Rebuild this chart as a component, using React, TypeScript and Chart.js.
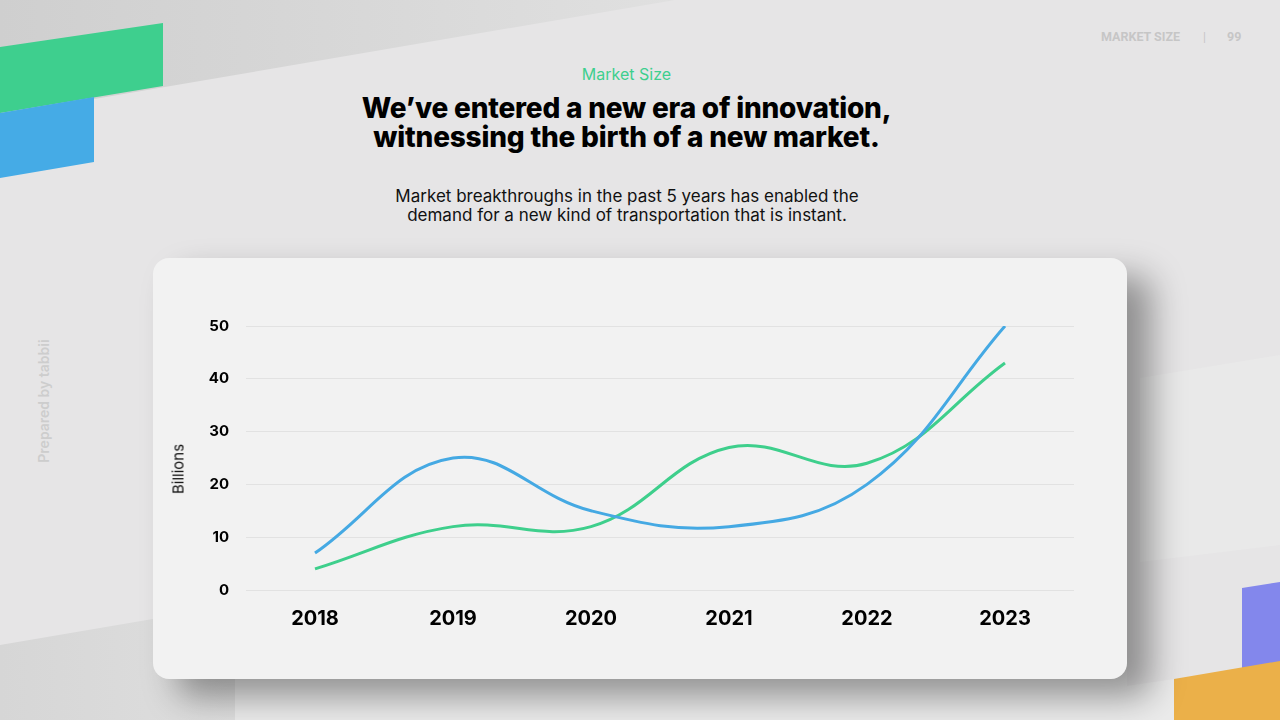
import React, { useEffect, useRef } from "react";
import { Chart, registerables } from "chart.js";

Chart.register(...registerables);

const years = ["2018", "2019", "2020", "2021", "2022", "2023"];
const seriesBlue = [7, 25, 15, 12, 20, 50];
const seriesGreen = [4, 12, 12, 27, 24, 43];
const yTicks = [0, 10, 20, 30, 40, 50];

const BLUE = "#45a9e3";
const GREEN = "#3ecf8c";

function LineChart() {
  const ref = useRef<HTMLCanvasElement | null>(null);
  useEffect(() => {
    if (!ref.current) return;
    const chart = new Chart(ref.current, {
      type: "line",
      data: {
        labels: years,
        datasets: [
          {
            label: "Blue",
            data: seriesBlue,
            borderColor: BLUE,
            borderWidth: 3,
            pointRadius: 0,
            tension: 0.4,
            fill: false,
          },
          {
            label: "Green",
            data: seriesGreen,
            borderColor: GREEN,
            borderWidth: 3,
            pointRadius: 0,
            tension: 0.4,
            fill: false,
          },
        ],
      },
      options: {
        animation: false,
        responsive: true,
        maintainAspectRatio: false,
        layout: { padding: { left: 0, right: 53, top: 68, bottom: 0 } },
        plugins: { legend: { display: false }, tooltip: { enabled: false } },
        scales: {
          x: {
            offset: true,
            grid: { display: false, drawTicks: false },
            border: { display: false },
            ticks: {
              color: "#000",
              font: { family: "Inter, 'Open Sans', sans-serif", size: 20, weight: "bold" },
              padding: 17,
            },
            afterFit: (s: any) => {
              s.height = 89;
            },
          },
          y: {
            min: yTicks[0],
            max: yTicks[yTicks.length - 1],
            afterBuildTicks: (s: any) => {
              s.ticks = yTicks.map((v) => ({ value: v }));
            },
            grid: { color: "#e2e2e2", lineWidth: 1, drawTicks: false },
            border: { display: false },
            ticks: {
              color: "#000",
              font: { family: "Inter, 'Open Sans', sans-serif", size: 15, weight: "bold" },
              padding: 17,
            },
            title: { display: false },
            afterFit: (s: any) => {
              s.width = 93;
            },
          },
        },
      },
    });
    return () => chart.destroy();
  }, []);
  return <canvas ref={ref} />;
}

export default function App() {
  const font = "Inter, 'Open Sans', sans-serif";
  return (
    <div
      style={{
        position: "fixed",
        left: 0,
        top: 0,
        width: 1280,
        height: 720,
        overflow: "hidden",
        background: "#e6e5e6",
        fontFamily: font,
      }}
    >
      <svg width={1280} height={720} style={{ position: "absolute", left: 0, top: 0 }}>
        <defs>
          <linearGradient id="topg" x1="0" y1="0" x2="1" y2="0">
            <stop offset="0" stopColor="#cfcfcf" />
            <stop offset="0.6" stopColor="#d9d9d9" />
            <stop offset="1" stopColor="#e0e0e0" />
          </linearGradient>
          <linearGradient id="botg" x1="0" y1="0" x2="1" y2="0">
            <stop offset="0" stopColor="#d6d6d6" />
            <stop offset="1" stopColor="#dedede" />
          </linearGradient>
        </defs>
        <polygon points="0,0 675,0 0,115" fill="url(#topg)" />
        <polygon points="0,645 235,605 235,720 0,720" fill="url(#botg)" />
        <polygon points="235,605 1127,455 1127,686 1174,679 1174,720 235,720" fill="#ebebeb" />
        <polygon points="1140,378 1280,355 1280,545 1140,562" fill="#e9e9e9" />
        <polygon points="0,47 163,23 163,86 0,113" fill="#3ecf8e" />
        <polygon points="0,113 94,97 94,162 0,178" fill="#45abe6" />
        <polygon points="1242,588 1280,582 1280,680 1242,686" fill="#8387ec" />
        <polygon points="1174,679 1280,661 1280,720 1174,720" fill="#ebb049" />
      </svg>

      <div
        style={{
          position: "absolute",
          left: 1101,
          top: 29,
          fontSize: 12.5,
          fontWeight: 700,
          color: "#c6c6c6",
          fontFamily: "Roboto, sans-serif",
          whiteSpace: "nowrap",
          lineHeight: "16px",
        }}
      >
        MARKET SIZE
      </div>
      <div style={{ position: "absolute", left: 1203, top: 29, fontSize: 12, color: "#c6c6c6", fontFamily: "Roboto, sans-serif", lineHeight: "16px" }}>|</div>
      <div style={{ position: "absolute", left: 1227, top: 29, fontSize: 12.5, fontWeight: 700, color: "#c6c6c6", fontFamily: "Roboto, sans-serif", lineHeight: "16px" }}>99</div>

      <div
        style={{
          position: "absolute",
          left: 43,
          top: 401,
          transform: "translate(-50%, -50%) rotate(-90deg)",
          fontSize: 14,
          fontWeight: 600,
          color: "#cdcdcd",
          whiteSpace: "nowrap",
        }}
      >
        Prepared by tabbii
      </div>

      <div
        style={{
          position: "absolute",
          left: 0,
          width: 1253,
          top: 64,
          textAlign: "center",
          fontSize: 16,
          color: "#3ecf8e",
          lineHeight: "20px",
        }}
      >
        Market Size
      </div>
      <div
        style={{
          position: "absolute",
          left: 0,
          width: 1253,
          top: 94,
          textAlign: "center",
          fontSize: 28,
          fontWeight: 800,
          color: "#000",
          lineHeight: "29px",
          letterSpacing: "-0.2px",
        }}
      >
        We’ve entered a new era of innovation,
        <br />
        witnessing the birth of a new market.
      </div>
      <div
        style={{
          position: "absolute",
          left: 0,
          width: 1254,
          top: 187,
          textAlign: "center",
          fontSize: 17,
          color: "#111",
          lineHeight: "19px",
        }}
      >
        Market breakthroughs in the past 5 years has enabled the
        <br />
        demand for a new kind of transportation that is instant.
      </div>

      <div
        style={{
          position: "absolute",
          left: 153,
          top: 258,
          width: 974,
          height: 421,
          borderRadius: 16,
          background: "#f2f2f2",
          boxShadow: "24px 18px 34px rgba(0,0,0,0.38)",
        }}
      >
        <div style={{ position: "relative", width: 974, height: 421 }}>
          <LineChart />
          <div
            style={{
              position: "absolute",
              left: 25,
              top: 211,
              transform: "translate(-50%, -50%) rotate(-90deg)",
              fontSize: 15,
              color: "#111",
              whiteSpace: "nowrap",
            }}
          >
            Billions
          </div>
        </div>
      </div>
    </div>
  );
}
